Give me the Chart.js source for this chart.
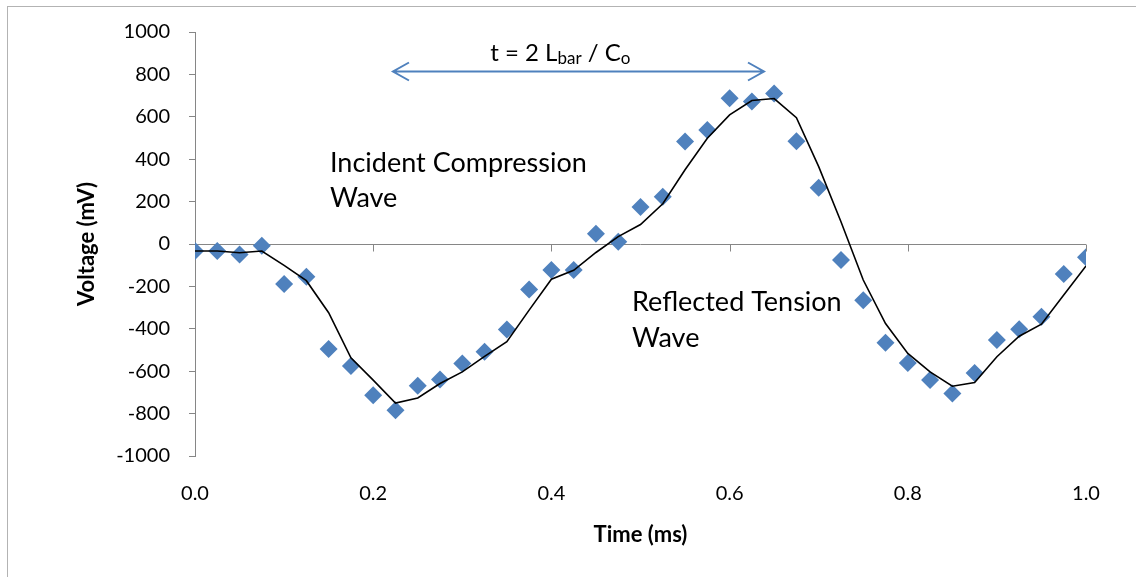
<!DOCTYPE html>
<html>
<head>
<meta charset="utf-8">
<script src="https://cdn.jsdelivr.net/npm/chart.js@4.4.1/dist/chart.umd.min.js"></script>
<style>
  html, body { margin: 0; padding: 0; background: #fff; }
  #wrap { position: relative; width: 1136px; height: 577px; }
</style>
</head>
<body>
<div id="wrap"><canvas id="chart" width="1136" height="577"></canvas></div>
<script>
// time axis (ms)
var times = [0.000, 0.025, 0.050, 0.075, 0.100, 0.125, 0.150, 0.175, 0.200, 0.225,
             0.250, 0.275, 0.300, 0.325, 0.350, 0.375, 0.400, 0.425, 0.450, 0.475,
             0.500, 0.525, 0.550, 0.575, 0.600, 0.625, 0.650, 0.675, 0.700, 0.725,
             0.750, 0.775, 0.800, 0.825, 0.850, 0.875, 0.900, 0.925, 0.950, 0.975, 1.000]

// strain gauge readings (mV)
var measured = [-33, -33, -50, -8, -189, -154, -495, -576, -713, -784,
                -669, -639, -564, -508, -403, -215, -123, -123, 48, 11,
                175, 223, 483, 538, 688, 672, 710, 485, 265, -76,
                -265, -466, -561, -642, -705, -608, -453, -402, -343, -142, -63]

// model curve (mV)
var fitted = [-33, -33, -41, -33, -101, -173, -324, -537, -642, -750,
              -726, -658, -603, -530, -461, -312, -166, -124, -40, 35,
              92, 190, 350, 499, 609, 677, 686, 596, 365, 105,
              -170, -375, -516, -603, -671, -653, -532, -435, -378, -241, -104]

var xTickValues = [0.2, 0.4, 0.6, 0.8, 1.0]

var axisGrey = '#868686'
var blue = '#4F81BD'
var font = 'Lato, "Open Sans", sans-serif'

function pts(ys) {
    return times.map(function (t, i) { return {x: t, y: ys[i]} })
}

// frame, zero axis, arrow and text boxes
var decor = {
    id: 'decor',
    beforeDraw: function (chart) {
        var ctx = chart.ctx
        ctx.save()
        ctx.fillStyle = '#fff'
        ctx.fillRect(0, 0, chart.width, chart.height)
        ctx.strokeStyle = '#b3b3b3'
        ctx.lineWidth = 1
        ctx.strokeRect(7.5, 6.5, chart.width + 20, chart.height + 20)
        ctx.restore()
    },
    beforeDatasetsDraw: function (chart) {
        var ctx = chart.ctx, xs = chart.scales.x, ys = chart.scales.y
        var y0 = Math.round(ys.getPixelForValue(0)) + 0.5
        ctx.save()
        ctx.strokeStyle = axisGrey
        ctx.lineWidth = 1
        ctx.beginPath()
        ctx.moveTo(xs.left, y0)
        ctx.lineTo(xs.right, y0)
        xTickValues.forEach(function (v) {
            var px = Math.round(xs.getPixelForValue(v)) + 0.5
            ctx.moveTo(px, y0)
            ctx.lineTo(px, y0 + 7)
        })
        ctx.stroke()
        ctx.restore()
    },
    afterDraw: function (chart) {
        var ctx = chart.ctx, xs = chart.scales.x, ys = chart.scales.y
        ctx.save()

        // two-way arrow: one round trip along the bar
        var ax1 = xs.getPixelForValue(0.2222), ax2 = xs.getPixelForValue(0.6386)
        var ay = Math.round(ys.getPixelForValue(817)) + 0.5
        ctx.strokeStyle = blue
        ctx.lineWidth = 2
        ctx.beginPath()
        ctx.moveTo(ax1, ay); ctx.lineTo(ax2, ay)
        ctx.moveTo(ax1 + 16, ay - 9); ctx.lineTo(ax1, ay); ctx.lineTo(ax1 + 16, ay + 9)
        ctx.moveTo(ax2 - 16, ay - 9); ctx.lineTo(ax2, ay); ctx.lineTo(ax2 - 16, ay + 9)
        ctx.stroke()

        // t = 2 L_bar / C_o
        ctx.fillStyle = '#000'
        ctx.textBaseline = 'alphabetic'
        var parts = [
            {s: 't = 2 L', f: '24px ' + font, dy: 0},
            {s: 'bar', f: '17px ' + font, dy: 3},
            {s: ' / C', f: '24px ' + font, dy: 0},
            {s: 'o', f: '17px ' + font, dy: 3}
        ]
        var total = 0
        parts.forEach(function (p) { ctx.font = p.f; p.w = ctx.measureText(p.s).width; total += p.w })
        var tx = xs.getPixelForValue(0.41) - total / 2
        var ty = ys.getPixelForValue(861)
        parts.forEach(function (p) {
            ctx.font = p.f
            ctx.fillText(p.s, tx, ty + p.dy)
            tx += p.w
        })

        ctx.font = '27px ' + font
        ctx.textAlign = 'left'
        var boxes = [
            {s: 'Incident Compression', t: 0.1515, v: 341},
            {s: 'Wave', t: 0.1515, v: 176},
            {s: 'Reflected Tension', t: 0.4905, v: -315},
            {s: 'Wave', t: 0.4905, v: -485}
        ]
        boxes.forEach(function (b) {
            ctx.fillText(b.s, xs.getPixelForValue(b.t), ys.getPixelForValue(b.v))
        })
        ctx.restore()
    }
}

new Chart(document.getElementById('chart'), {
    type: 'scatter',
    data: {
        datasets: [
            {
                label: 'Model',
                data: pts(fitted),
                showLine: true,
                borderColor: '#000',
                borderWidth: 1.6,
                pointRadius: 0,
                fill: false,
                tension: 0,
                order: 0
            },
            {
                label: 'Measured',
                data: pts(measured),
                pointStyle: 'rectRot',
                pointRadius: 9,
                pointBackgroundColor: blue,
                pointBorderColor: blue,
                pointBorderWidth: 0,
                showLine: false,
                order: 1
            }
        ]
    },
    options: {
        responsive: false,
        animation: false,
        devicePixelRatio: 1,
        layout: {padding: {top: 32, right: 50, bottom: 0, left: 74}},
        plugins: {legend: {display: false}, tooltip: {enabled: false}},
        scales: {
            x: {
                type: 'linear',
                min: 0,
                max: 1,
                grid: {display: false, drawTicks: false},
                border: {display: false},
                ticks: {
                    stepSize: 0.2,
                    padding: 26,
                    color: '#000',
                    font: {family: font, size: 20},
                    callback: function (v) { return v.toFixed(1) }
                },
                title: {
                    display: true,
                    text: 'Time (ms)',
                    color: '#000',
                    font: {family: font, size: 22, weight: 'bold'},
                    padding: {top: 10, bottom: 29}
                },
                afterFit: function (s) { s.height = 121 }
            },
            y: {
                min: -1000,
                max: 1000,
                grid: {drawOnChartArea: false, color: axisGrey, tickLength: 6},
                border: {color: axisGrey, width: 1},
                ticks: {
                    stepSize: 200,
                    padding: 19,
                    color: '#000',
                    font: {family: font, size: 20},
                    callback: function (v) { return String(v) }
                },
                title: {
                    display: true,
                    text: 'Voltage (mV)',
                    color: '#000',
                    font: {family: font, size: 22, weight: 'bold'},
                    padding: 0
                },
                afterFit: function (s) { s.width = 121 }
            }
        }
    },
    plugins: [decor]
})
</script>
</body>
</html>
